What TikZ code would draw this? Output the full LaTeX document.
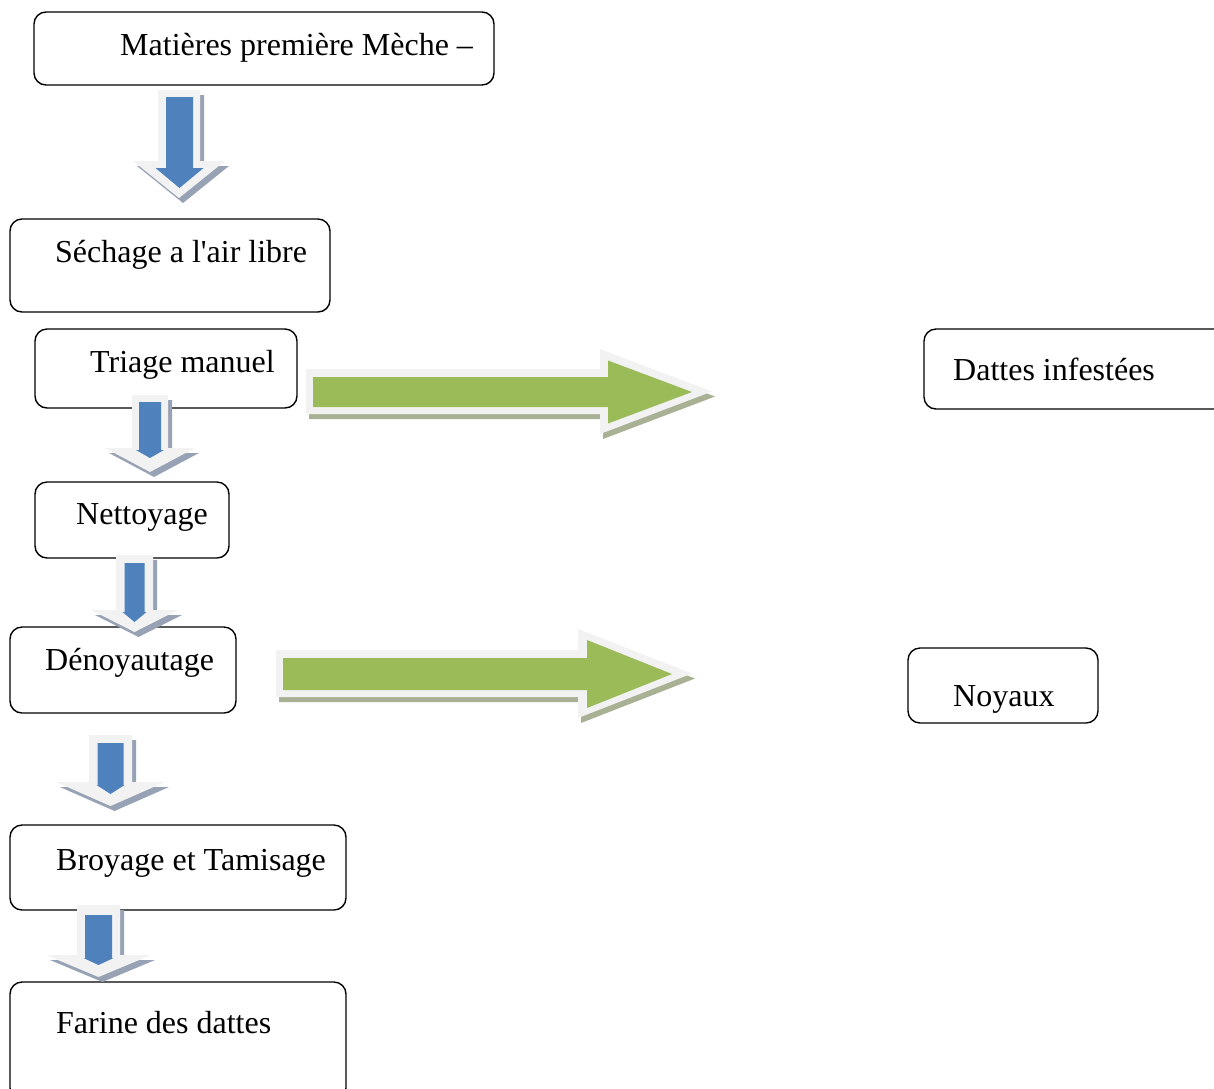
\documentclass[tikz,border=0pt]{standalone}
\usepackage{fontspec}
\setmainfont{Liberation Serif}
\newfontfamily\rawserif{Liberation Serif}
\definecolor{lightb}{HTML}{F2F2F2}
\definecolor{blueA}{HTML}{4F81BD}
\definecolor{blueS}{HTML}{97A2B5}
\definecolor{greenA}{HTML}{9BBB59}
\definecolor{greenS}{HTML}{A9B194}
\tikzset{
  box/.style={draw=black, line width=1.4pt, rounded corners=12pt, inner sep=0pt},
  lbl/.style={anchor=base west, inner sep=0pt, font=\rawserif\fontsize{32}{38}\selectfont}
}
% down arrow: cx, top, shaft half width, head y, head half width, tip y
\newcommand{\dnshape}[6]{({#1-#3},#2) -- ({#1+#3},#2) -- ({#1+#3},#4) -- ({#1+#5},#4) -- (#1,#6) -- ({#1-#5},#4) -- ({#1-#3},#4) -- cycle}
\newcommand{\dnlight}[6]{%
  \fill[blueS, shift={(4,5)}] \dnshape{#1}{#2}{#3}{#4}{#5}{#6};
  \fill[lightb] \dnshape{#1}{#2}{#3}{#4}{#5}{#6};}
\newcommand{\dnblue}[6]{\fill[blueA] \dnshape{#1}{#2}{#3}{#4}{#5}{#6};}
% right arrow: left x, cy, shaft half height, head x, head half height, tip x
\newcommand{\rtshape}[6]{(#1,{#2-#3}) -- (#4,{#2-#3}) -- (#4,{#2-#5}) -- (#6,#2) -- (#4,{#2+#5}) -- (#4,{#2+#3}) -- (#1,{#2+#3}) -- cycle}
\newcommand{\rtlight}[6]{%
  \fill[greenS, shift={(3,5)}] \rtshape{#1}{#2}{#3}{#4}{#5}{#6};
  \fill[lightb] \rtshape{#1}{#2}{#3}{#4}{#5}{#6};}
\newcommand{\rtgreen}[6]{\fill[greenA] \rtshape{#1}{#2}{#3}{#4}{#5}{#6};}
\begin{document}
\begin{tikzpicture}[x=1pt,y=-1pt]
\useasboundingbox (0,0) rectangle (1214,1088);
\clip (0,0) rectangle (1214,1088);
% boxes
\node[box, minimum width=460pt, minimum height=73pt] (b1) at (264,48.5) {};
\node[box, minimum width=320pt, minimum height=93pt] (b2) at (170,265.5) {};
\node[box, minimum width=262pt, minimum height=79pt] (b3) at (166,368.5) {};
\node[box, minimum width=306pt, minimum height=80pt] (b4) at (1077,369) {};
\node[box, minimum width=194pt, minimum height=76pt] (b5) at (132,520) {};
\node[box, minimum width=226pt, minimum height=86pt] (b6) at (123,670) {};
\node[box, minimum width=190pt, minimum height=75pt] (b7) at (1003,685.5) {};
\node[box, minimum width=336pt, minimum height=85pt] (b8) at (178,867.5) {};
\node[box, minimum width=336pt, minimum height=118pt] (b9) at (178,1041) {};
% down arrows
\dnlight{179}{90}{21}{161}{46}{198}
\dnblue{179.5}{97}{13.5}{168}{24}{188}
\dnlight{150}{395}{18}{448}{45}{472}
\dnblue{150}{402}{11}{450}{14}{458}
\dnlight{134.5}{555}{18.5}{610}{43.5}{632}
\dnblue{134.5}{563}{10}{612}{12}{622}
\dnlight{110.5}{735}{21.5}{782}{54.5}{806}
\dnblue{110.5}{743}{13}{785}{14}{794}
\dnlight{98.5}{905}{21.5}{955}{52.5}{977}
\dnblue{98.5}{915}{13.5}{958}{15}{965}
% right arrows
\rtlight{306}{391.5}{22.5}{600}{42.5}{712}
\rtgreen{313}{392}{15}{608}{31.5}{692}
\rtlight{276}{673.5}{23.5}{578}{44.5}{692}
\rtgreen{283}{674}{16}{587}{34}{672}
% labels
\node[lbl] (t1) at (120,55) {Matières première Mèche –};
\node[lbl] (t2) at (55,262) {Séchage a l'air libre};
\node[lbl] (t3) at (90,372) {Triage manuel};
\node[lbl] (t4) at (953,380) {Dattes infestées};
\node[lbl] (t5) at (76,524) {Nettoyage};
\node[lbl] (t6) at (45,670) {Dénoyautage};
\node[lbl] (t7) at (953,706) {Noyaux};
\node[lbl] (t8) at (56,870) {Broyage et Tamisage};
\node[lbl] (t9) at (56,1033) {Farine des dattes};
\end{tikzpicture}
\end{document}
